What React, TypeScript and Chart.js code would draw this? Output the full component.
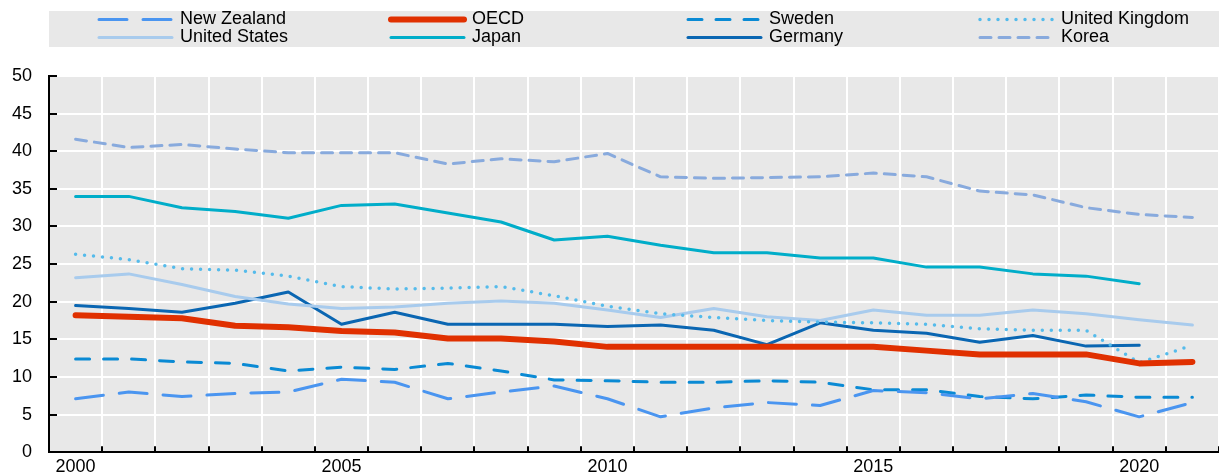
import React, { useEffect, useRef } from "react";
import { Chart, registerables } from "chart.js";

Chart.register(...registerables);

const years = [
  "2000", "2001", "2002", "2003", "2004", "2005", "2006", "2007", "2008", "2009", "2010",
  "2011", "2012", "2013", "2014", "2015", "2016", "2017", "2018", "2019", "2020", "2021",
];

const newZealand = [7.1, 8.0, 7.4, 7.8, 8.0, 9.7, 9.3, 7.1, 8.0, 8.8, 7.1, 4.7, 5.9, 6.6, 6.2, 8.2, 7.9, 7.1, 7.8, 6.7, 4.7, 6.6];
const oecd = [18.2, 18.0, 17.8, 16.8, 16.6, 16.1, 15.9, 15.1, 15.1, 14.7, 14.0, 14.0, 14.0, 14.0, 14.0, 14.0, 13.5, 13.0, 13.0, 13.0, 11.8, 12.0];
const sweden = [12.4, 12.4, 12.0, 11.8, 10.8, 11.3, 11.0, 11.8, 10.8, 9.6, 9.5, 9.3, 9.3, 9.5, 9.3, 8.3, 8.3, 7.4, 7.1, 7.6, 7.3, 7.3];
const unitedKingdom = [26.3, 25.6, 24.4, 24.2, 23.4, 22.0, 21.7, 21.8, 22.0, 20.8, 19.4, 18.4, 17.9, 17.5, 17.3, 17.2, 17.0, 16.4, 16.2, 16.2, 11.9, 14.2];
const unitedStates = [23.2, 23.7, 22.3, 20.7, 19.7, 19.1, 19.3, 19.8, 20.1, 19.8, 18.9, 17.9, 19.1, 18.0, 17.5, 18.9, 18.2, 18.2, 18.9, 18.4, 17.6, 16.9];
const japan = [34.0, 34.0, 32.5, 32.0, 31.1, 32.8, 33.0, 31.8, 30.6, 28.2, 28.7, 27.5, 26.5, 26.5, 25.8, 25.8, 24.6, 24.6, 23.7, 23.4, 22.4, null];
const germany = [19.5, 19.1, 18.6, 19.8, 21.3, 17.0, 18.6, 17.0, 17.0, 17.0, 16.7, 16.9, 16.2, 14.3, 17.2, 16.2, 15.8, 14.6, 15.5, 14.1, 14.2, null];
const korea = [41.6, 40.5, 40.9, 40.3, 39.8, 39.8, 39.8, 38.3, 39.0, 38.6, 39.7, 36.6, 36.4, 36.5, 36.6, 37.1, 36.6, 34.7, 34.2, 32.5, 31.6, 31.2];

const yTicks = [0, 5, 10, 15, 20, 25, 30, 35, 40, 45, 50];
const xLabelYears = ["2000", "2005", "2010", "2015", "2020"];

const FONT = '"Liberation Sans", Arial, sans-serif';
const BG = "#e8e8e8";

const seriesDefs = [
  { label: "New Zealand", data: newZealand, color: "#4a95f0", width: 3, dash: [28, 16], cap: "round" },
  { label: "OECD", data: oecd, color: "#e03000", width: 6, dash: [], cap: "round" },
  { label: "Sweden", data: sweden, color: "#0a8ad4", width: 3, dash: [14, 14], cap: "round" },
  { label: "United Kingdom", data: unitedKingdom, color: "#55bbeb", width: 3.5, dash: [0, 9], cap: "round" },
  { label: "United States", data: unitedStates, color: "#a8cbed", width: 3, dash: [], cap: "round" },
  { label: "Japan", data: japan, color: "#00adc9", width: 3, dash: [], cap: "round" },
  { label: "Germany", data: germany, color: "#0a66b2", width: 3, dash: [], cap: "round" },
  { label: "Korea", data: korea, color: "#88aadd", width: 3, dash: [11, 8], cap: "round" },
];

const bgPlugin = {
  id: "plotBg",
  beforeDraw(chart: any) {
    const { ctx, chartArea } = chart;
    ctx.save();
    ctx.fillStyle = BG;
    ctx.fillRect(chartArea.left, chartArea.top, chartArea.right - chartArea.left, chartArea.bottom - chartArea.top);
    ctx.restore();
  },
};

const ticksPlugin = {
  id: "inwardTicks",
  afterDatasetsDraw(chart: any) {
    const { ctx, chartArea, scales } = chart;
    const y = scales.y;
    ctx.save();
    ctx.strokeStyle = "#000";
    ctx.lineWidth = 2;
    ctx.beginPath();
    yTicks.forEach((v) => {
      const py = Math.round(y.getPixelForValue(v));
      ctx.moveTo(chartArea.left, py);
      ctx.lineTo(chartArea.left + 8, py);
    });
    const n = years.length;
    const step = (chartArea.right - chartArea.left) / n;
    for (let i = 1; i <= n; i++) {
      const px = Math.round(chartArea.left + i * step);
      ctx.moveTo(px, chartArea.bottom);
      ctx.lineTo(px, chartArea.bottom - 6);
    }
    ctx.stroke();
    ctx.restore();
  },
};

const legendPlugin = {
  id: "customLegend",
  afterDraw(chart: any) {
    const { ctx } = chart;
    ctx.save();
    ctx.fillStyle = BG;
    ctx.fillRect(49, 11, 1170, 36);
    const colX = [98, 390, 687, 979];
    const rowY = [19.5, 37.5];
    seriesDefs.forEach((s, i) => {
      const col = i % 4;
      const row = Math.floor(i / 4);
      const x0 = colX[col];
      const yy = rowY[row];
      ctx.beginPath();
      ctx.strokeStyle = s.color;
      ctx.lineWidth = s.width;
      ctx.lineCap = s.cap as CanvasLineCap;
      ctx.setLineDash(s.dash);
      ctx.moveTo(x0 + 1, yy);
      ctx.lineTo(x0 + 74, yy);
      ctx.stroke();
      ctx.setLineDash([]);
      ctx.fillStyle = "#000";
      ctx.font = `18px ${FONT}`;
      ctx.textBaseline = "middle";
      ctx.textAlign = "left";
      ctx.fillText(s.label, x0 + 82, yy);
    });
    ctx.restore();
  },
};

export default function App() {
  const ref = useRef<HTMLCanvasElement | null>(null);

  useEffect(() => {
    if (!ref.current) return;
    const chart = new Chart(ref.current, {
      type: "line",
      data: {
        labels: years,
        datasets: seriesDefs.map((s) => ({
          label: s.label,
          data: s.data,
          borderColor: s.color,
          backgroundColor: s.color,
          borderWidth: s.width,
          borderDash: s.dash,
          borderCapStyle: s.cap as any,
          borderJoinStyle: "round" as any,
          pointRadius: 0,
          tension: 0,
          spanGaps: false,
          fill: false,
        })),
      },
      options: {
        responsive: false,
        animation: false,
        layout: { padding: { top: 76, right: 0, left: 0, bottom: 0 } },
        plugins: {
          legend: { display: false },
          tooltip: { enabled: false },
          title: { display: false },
        },
        scales: {
          x: {
            type: "category",
            offset: true,
            grid: {
              offset: true,
              color: "#ffffff",
              lineWidth: 2,
              drawTicks: false,
            },
            border: { display: true, color: "#000", width: 2 },
            ticks: {
              autoSkip: false,
              maxRotation: 0,
              minRotation: 0,
              padding: 7,
              color: "#000",
              font: { family: FONT, size: 18, lineHeight: 0.92 },
              callback: (_v: any, i: number) => (xLabelYears.includes(years[i]) ? years[i] : ""),
            },
            afterFit: (scale: any) => {
              scale.height = 24;
            },
          },
          y: {
            min: 0,
            max: 50,
            grid: {
              color: "#ffffff",
              lineWidth: 2,
              drawTicks: false,
            },
            border: { display: true, color: "#000", width: 2 },
            ticks: {
              stepSize: 5,
              padding: 17,
              color: "#000",
              font: { family: FONT, size: 18 },
            },
            afterFit: (scale: any) => {
              scale.width = 49;
            },
          },
        },
      },
      plugins: [bgPlugin, ticksPlugin, legendPlugin],
    });
    return () => chart.destroy();
  }, []);

  return (
    <div style={{ position: "absolute", left: 0, top: 0, width: 1219, height: 476, overflow: "hidden", background: "#fff" }}>
      <canvas ref={ref} width={1219} height={480} style={{ display: "block" }} />
    </div>
  );
}
